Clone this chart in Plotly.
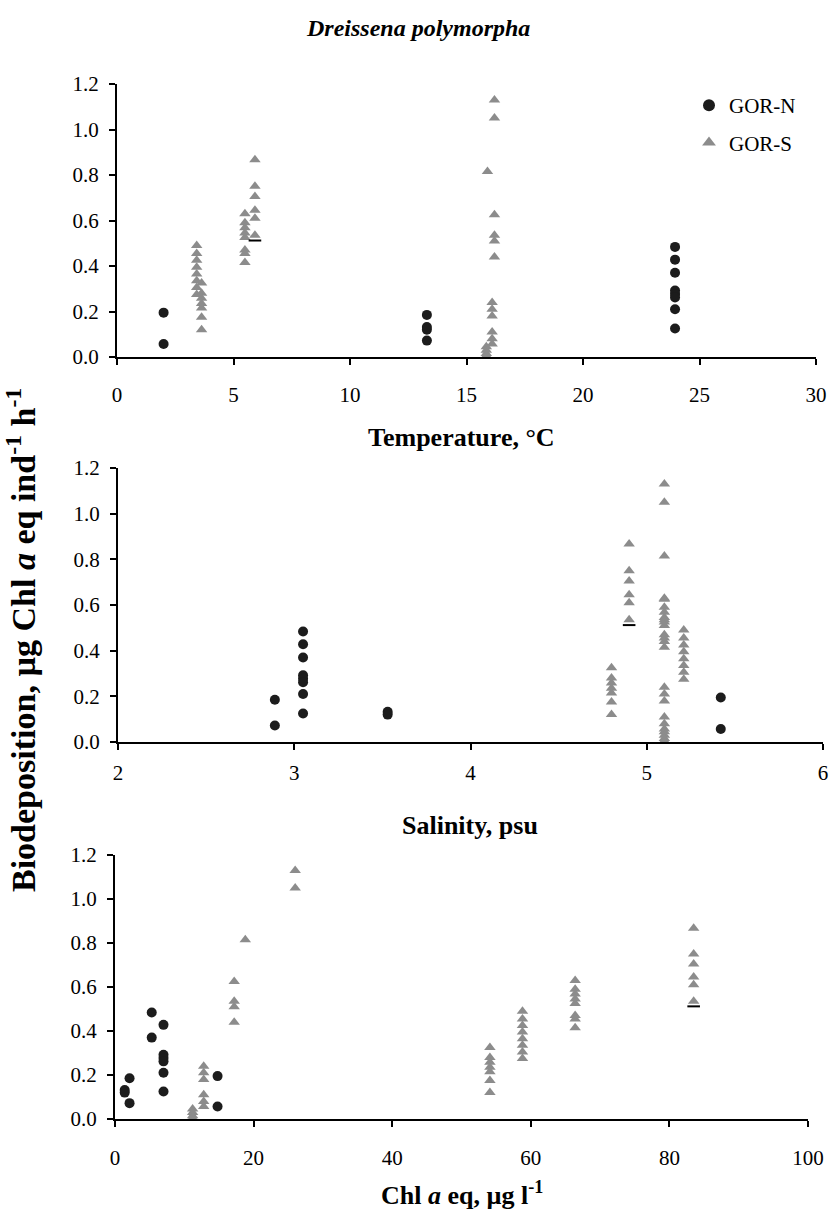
import plotly.graph_objects as go

# ---------------- data ----------------
# GOR-N groups: (temperature °C, salinity psu, Chl a eq µg/l, biodeposition values)
n_temp = [2.0, 13.3, 13.3, 23.95, 23.95]
n_sal = [5.42, 2.89, 3.53, 3.05, 3.05]
n_chl = [14.8, 2.1, 1.4, 5.3, 7.0]
n_bio = [
    [0.195, 0.057],
    [0.185, 0.072],
    [0.132, 0.120],
    [0.484, 0.370],
    [0.428, 0.292, 0.277, 0.262, 0.210, 0.125],
]

# GOR-S groups
s_temp = [3.42, 3.63, 5.49, 5.92, 15.9, 16.2, 16.2, 16.1, 15.85]
s_sal = [5.21, 4.80, 5.10, 4.90, 5.10, 5.10, 5.10, 5.10, 5.10]
s_chl = [58.8, 54.1, 66.4, 83.5, 18.8, 26.0, 17.2, 12.8, 11.2]
s_bio = [
    [0.490, 0.455, 0.425, 0.395, 0.365, 0.335, 0.305, 0.275],
    [0.325, 0.280, 0.258, 0.235, 0.215, 0.175, 0.120],
    [0.630, 0.590, 0.568, 0.545, 0.525, 0.470, 0.455, 0.415],
    [0.867, 0.750, 0.705, 0.645, 0.610, 0.535],
    [0.815],
    [1.130, 1.050],
    [0.625, 0.535, 0.510, 0.440],
    [0.240, 0.210, 0.180, 0.110, 0.080, 0.057],
    [0.045, 0.030, 0.015, 0.005],
]

# small black underline seen below one GOR-S triangle in each panel
dash_temp = [5.92]
dash_sal = [4.90]
dash_chl = [83.5]
dash_bio = [0.512]

x_ticks_temp = [0, 5, 10, 15, 20, 25, 30]
x_ticks_sal = [2, 3, 4, 5, 6]
x_ticks_chl = [0, 20, 40, 60, 80, 100]
y_ticks = [0.0, 0.2, 0.4, 0.6, 0.8, 1.0, 1.2]


def expand(xs, groups):
    ox, oy = [], []
    for x, vals in zip(xs, groups):
        for v in vals:
            ox.append(x)
            oy.append(v)
    return ox, oy


FONT = "Liberation Serif"
N_COLOR = "#1c1c1c"
S_COLOR = "#8c8c8c"

fig = go.Figure()

panels = [
    ("x", "y", n_temp, s_temp, dash_temp),
    ("x2", "y2", n_sal, s_sal, dash_sal),
    ("x3", "y3", n_chl, s_chl, dash_chl),
]

for i, (xa, ya, nx, sx, dx) in enumerate(panels):
    ex, ey = expand(sx, s_bio)
    fig.add_trace(go.Scatter(
        x=ex, y=ey, mode="markers", xaxis=xa, yaxis=ya,
        name="GOR-S", legendgroup="S", showlegend=(i == 0), legendrank=2,
        marker=dict(symbol="triangle-up", size=10, color=S_COLOR, line=dict(width=0)),
        cliponaxis=False,
    ))
    fig.add_trace(go.Scatter(
        x=dx, y=dash_bio, mode="markers", xaxis=xa, yaxis=ya,
        showlegend=False, hoverinfo="skip",
        marker=dict(symbol="line-ew", size=9, color="black", line=dict(width=2, color="black")),
        cliponaxis=False,
    ))
    ex, ey = expand(nx, n_bio)
    fig.add_trace(go.Scatter(
        x=ex, y=ey, mode="markers", xaxis=xa, yaxis=ya,
        name="GOR-N", legendgroup="N", showlegend=(i == 0), legendrank=1,
        marker=dict(symbol="circle", size=10, color=N_COLOR, line=dict(width=0)),
        cliponaxis=False,
    ))

H = 1222.0
W = 832.0


def ydom(top, bottom):
    return [1 - bottom / H, 1 - top / H]


axis_common = dict(
    showline=True, linecolor="black", linewidth=2, showgrid=False, zeroline=False,
    ticks="outside", tickcolor="black", tickwidth=2, ticklen=6,
    tickfont=dict(family=FONT, size=21, color="black"),
)

fig.update_layout(
    width=832, height=1222,
    margin=dict(l=0, r=0, t=0, b=0, autoexpand=False),
    paper_bgcolor="white", plot_bgcolor="white",
    showlegend=True,
    legend=dict(
        x=689 / W, y=1 - 85 / H, xanchor="left", yanchor="top",
        font=dict(family=FONT, size=21, color="black"),
        bgcolor="rgba(0,0,0,0)", tracegroupgap=7, itemsizing="constant",
    ),
    xaxis=dict(domain=[117 / W, 816 / W], range=[0, 30], tickvals=x_ticks_temp,
               anchor="y", ticklabelstandoff=12, **axis_common),
    yaxis=dict(domain=ydom(84, 357), range=[0, 1.2], tickvals=y_ticks, tickformat=".1f",
               anchor="x", ticklabelstandoff=6, **axis_common),
    xaxis2=dict(domain=[118 / W, 823 / W], range=[2, 6], tickvals=x_ticks_sal,
                anchor="y2", ticklabelstandoff=5, **axis_common),
    yaxis2=dict(domain=ydom(468, 742), range=[0, 1.2], tickvals=y_ticks, tickformat=".1f",
                anchor="x2", ticklabelstandoff=6, **axis_common),
    xaxis3=dict(domain=[115 / W, 808 / W], range=[0, 100], tickvals=x_ticks_chl,
                anchor="y3", ticklabelstandoff=13, **axis_common),
    yaxis3=dict(domain=ydom(855, 1119), range=[0, 1.2], tickvals=y_ticks, tickformat=".1f",
                anchor="x3", ticklabelstandoff=6, **axis_common),
)

ann_font = dict(family=FONT, size=26, color="black")
annotations = [
    dict(text="<b><i>Dreissena polymorpha</i></b>", x=418 / W, y=1 - 28 / H,
         font=dict(family=FONT, size=24, color="black")),
    dict(text="<b>Temperature, °C</b>", x=461 / W, y=1 - 437 / H, font=ann_font),
    dict(text="<b>Salinity, psu</b>", x=470 / W, y=1 - 825 / H, font=ann_font),
    dict(text="<b>Chl <i>a</i> eq, µg l<sup>-1</sup></b>", x=462 / W, y=1 - 1193 / H, font=ann_font),
    dict(text="<b>Biodeposition, µg Chl <i>a</i> eq ind<sup>-1</sup> h<sup>-1</sup></b>",
         x=21 / W, y=1 - 640 / H, textangle=-90,
         font=dict(family=FONT, size=34, color="black")),
]
for a in annotations:
    a.update(xref="paper", yref="paper", showarrow=False, xanchor="center", yanchor="middle")
fig.update_layout(annotations=annotations)

fig.write_html(
    "out.html",
    config={"displayModeBar": False},
    post_script="document.body.style.margin='0';document.body.style.overflow='hidden';",
)
